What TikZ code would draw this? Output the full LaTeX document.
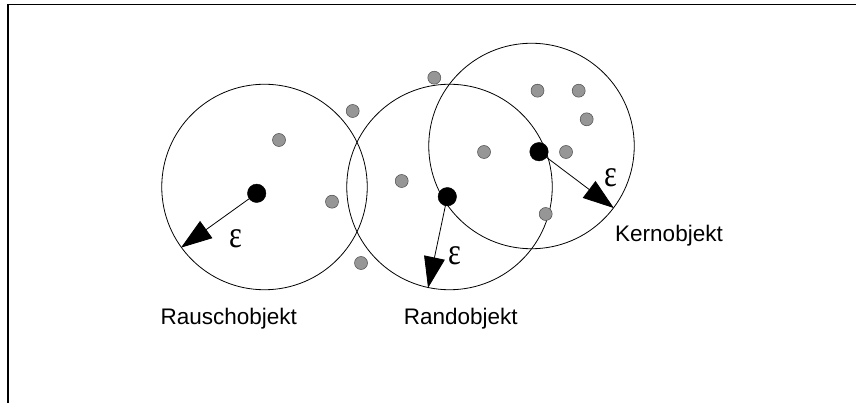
\documentclass[tikz,border=0pt]{standalone}
\usepackage{fontspec}
\setmainfont{Liberation Sans}
\newfontfamily\epsfont{Liberation Serif}
\usetikzlibrary{arrows.meta}
\tikzset{
  region/.style={draw=black, line width=0.8pt, circle, minimum size=205.5pt, inner sep=0pt},
  coreobj/.style={circle, fill=black, draw=black, minimum size=18.5pt, inner sep=0pt},
  pt/.style={circle, fill={rgb,255:red,150;green,150;blue,150}, draw=black!70, line width=0.5pt, minimum size=13pt, inner sep=0pt},
  epsarrow/.style={line width=0.8pt, -{Triangle[length=31pt, width=21pt]}, shorten <=-2pt},
  lab/.style={anchor=base, inner sep=0pt, font=\fontsize{22.5}{24}\selectfont},
  epslab/.style={inner sep=0pt, font=\epsfont\fontsize{38}{40}\selectfont},
  frame/.style={line width=1.2pt}
}
\begin{document}
\begin{tikzpicture}[x=1pt, y=-1pt]
\useasboundingbox (0,0) rectangle (856,403);
\coordinate (fTL) at (8,4.5);
\coordinate (fTR) at (856,4.5);
\coordinate (fBL) at (8,403);
\draw[frame] (fTR) -- (fTL) -- (fBL);

% eps-neighbourhoods
\node[region] (cL) at (264.5,187) {};
\node[region] (cM) at (449.5,187) {};
\node[region] (cR) at (531.5,146) {};

% grey points
\node[pt] (p1) at (279,140) {};
\node[pt] (p2) at (352.7,111) {};
\node[pt] (p3) at (332,201.7) {};
\node[pt] (p4) at (361,263) {};
\node[pt] (p5) at (434.3,77.7) {};
\node[pt] (p6) at (537.5,90.7) {};
\node[pt] (p7) at (578.7,90.7) {};
\node[pt] (p8) at (586.7,119.3) {};
\node[pt] (p9) at (484,152) {};
\node[pt] (p10) at (566,152) {};
\node[pt] (p11) at (401.7,181) {};
\node[pt] (p12) at (545.7,214) {};

% objects
\node[coreobj] (oL) at (256.7,193.3) {};
\node[coreobj] (oM) at (447.3,196.7) {};
\node[coreobj] (oR) at (539,151.7) {};

% radius arrows
\draw[epsarrow] (oL.center) -- (cL.216.8);
\draw[epsarrow] (oM.center) -- (cM.258.6);
\draw[epsarrow] (oR.center) -- (cR.323.2);

% eps labels
\node[epslab] (eL) at (236,238.3) {\scalebox{0.8}[1]{ε}};
\node[epslab] (eM) at (455,255.7) {\scalebox{0.8}[1]{ε}};
\node[epslab] (eR) at (610.7,177.7) {\scalebox{0.8}[1]{ε}};

% labels
\node[lab] (tL) at (228.7,324) {Rauschobjekt};
\node[lab] (tM) at (460.8,324) {Randobjekt};
\node[lab] (tR) at (669,241.7) {Kernobjekt};
\end{tikzpicture}
\end{document}
